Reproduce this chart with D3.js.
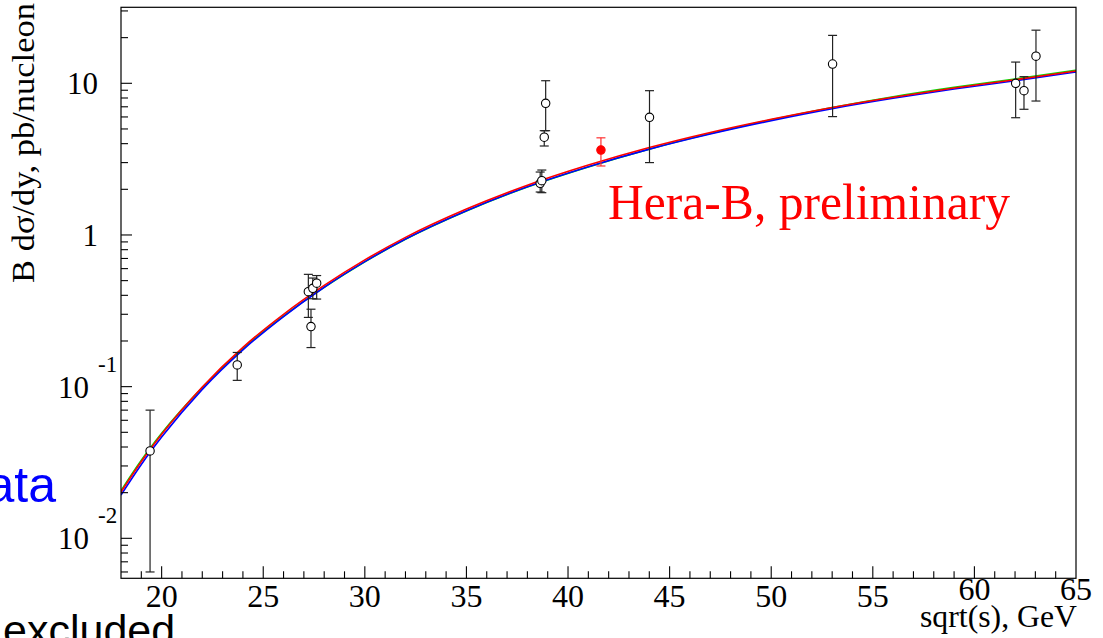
<!DOCTYPE html>
<html>
<head>
<meta charset="utf-8">
<script src="https://cdn.jsdelivr.net/npm/d3@7"></script>
<style>
  html, body { margin: 0; padding: 0; background: #fff; overflow: hidden; }
  text { font-family: "Liberation Serif", "Times New Roman", serif; }
</style>
</head>
<body>
<svg id="chart" width="1103" height="638"></svg>
<script>
// Fit curves (three nearly coincident model curves), sampled in sqrt(s)
const curveSqrtS = [18, 19, 20, 22, 24, 26, 28, 30, 32, 35, 38, 41, 44, 47, 50, 53, 56, 59, 62, 65];
const curveRed   = [0.0202, 0.0321, 0.0485, 0.0995, 0.1815, 0.300, 0.465, 0.685, 0.964, 1.482, 2.13, 2.89, 3.77, 4.74, 5.79, 6.93, 8.10, 9.31, 10.55, 12.05];
const curveGreen = [0.0206, 0.0327, 0.0492, 0.0985, 0.178, 0.292, 0.451, 0.665, 0.936, 1.438, 2.07, 2.81, 3.68, 4.66, 5.74, 6.92, 8.15, 9.40, 10.68, 12.20];
const curveBlue  = [0.0193, 0.0307, 0.0465, 0.0960, 0.175, 0.290, 0.452, 0.667, 0.940, 1.445, 2.08, 2.82, 3.68, 4.63, 5.67, 6.80, 7.96, 9.16, 10.39, 11.87];

// Measurements from other experiments (open circles)
const pointSqrtS = [19.43, 23.72, 27.22, 27.35, 27.44, 27.63, 38.63, 38.71, 38.83, 38.90, 44.01, 53.02, 62.03, 62.44, 63.03];
const pointValue = [0.0377, 0.139, 0.423, 0.249, 0.445, 0.481, 2.19, 2.28, 4.41, 7.38, 5.97, 13.4, 10.0, 8.94, 15.1];
const pointLow   = [0.0060, 0.110, 0.286, 0.181, 0.380, 0.378, 1.92, 1.90, 3.86, 4.87, 3.00, 6.03, 5.93, 6.74, 7.64];
const pointHigh  = [0.070, 0.168, 0.550, 0.324, 0.520, 0.540, 2.60, 2.68, 4.87, 10.4, 8.94, 20.7, 13.8, 11.06, 22.4];

// Hera-B measurement (filled red)
const heraSqrtS = [41.62];
const heraValue = [3.63];
const heraLow   = [2.85];
const heraHigh  = [4.37];

// Axis ticks and labels
const xTickValues = [20, 25, 30, 35, 40, 45, 50, 55, 60, 65];
const xTickLabels = ["20", "25", "30", "35", "40", "45", "50", "55", "60", "65"];
const yTickValues = [0.01, 0.1, 1, 10];
const yTickBase   = ["10", "10", "1", "10"];
const yTickExp    = ["-2", "-1", "", ""];

const plotLeft = 121, plotRight = 1076, plotTop = 7.3, plotBottom = 578.3;

const svg = d3.select("#chart");
const x = d3.scaleLinear().domain([18, 65]).range([plotLeft, plotRight]);
const y = d3.scaleLog().domain([0.00545, 31.7]).range([plotBottom, plotTop]);

svg.append("defs").append("clipPath").attr("id", "plotClip")
  .append("rect").attr("x", plotLeft).attr("y", plotTop)
  .attr("width", plotRight - plotLeft).attr("height", plotBottom - plotTop);

// Model curves
const line = d3.line().x(d => x(d[0])).y(d => y(d[1])).curve(d3.curveMonotoneX);
const curveGroup = svg.append("g").attr("clip-path", "url(#plotClip)");
[[curveGreen, "#00dd00"], [curveBlue, "#0000ff"], [curveRed, "#ff0000"]].forEach(([vals, col]) => {
  curveGroup.append("path")
    .datum(curveSqrtS.map((s, i) => [s, vals[i]]))
    .attr("d", line)
    .attr("fill", "none")
    .attr("stroke", col)
    .attr("stroke-width", 1.6);
});

// Error bars + markers
function drawPoints(sx, val, lo, hi, barColor, fill, stroke) {
  const g = svg.append("g");
  sx.forEach((s, i) => {
    const cx = x(s);
    g.append("line").attr("x1", cx).attr("x2", cx)
      .attr("y1", y(lo[i])).attr("y2", y(hi[i]))
      .attr("stroke", barColor).attr("stroke-width", 1.2);
    [lo[i], hi[i]].forEach(v => {
      g.append("line").attr("x1", cx - 4.5).attr("x2", cx + 4.5)
        .attr("y1", y(v)).attr("y2", y(v))
        .attr("stroke", barColor).attr("stroke-width", 1.2);
    });
  });
  sx.forEach((s, i) => {
    g.append("circle").attr("cx", x(s)).attr("cy", y(val[i])).attr("r", 4.2)
      .attr("fill", fill).attr("stroke", stroke).attr("stroke-width", 1.1);
  });
}
drawPoints(pointSqrtS, pointValue, pointLow, pointHigh, "#222", "#fff", "#000");
drawPoints(heraSqrtS, heraValue, heraLow, heraHigh, "#ff3030", "#ff0000", "#ff0000");

// Frame
svg.append("rect").attr("x", plotLeft).attr("y", plotTop)
  .attr("width", plotRight - plotLeft).attr("height", plotBottom - plotTop)
  .attr("fill", "none").attr("stroke", "#000").attr("stroke-width", 1.2);

// X ticks
const xAxis = svg.append("g");
d3.range(19, 65).forEach(v => {
  const major = v % 5 === 0;
  xAxis.append("line").attr("x1", x(v)).attr("x2", x(v))
    .attr("y1", plotBottom).attr("y2", plotBottom - (major ? 12 : 7))
    .attr("stroke", "#000").attr("stroke-width", 1.1);
});
xTickValues.forEach((v, i) => {
  xAxis.append("text").attr("x", x(v)).attr("y", v >= 60 ? 600 : 607)
    .attr("text-anchor", "middle").attr("font-size", 32).attr("fill", "#000")
    .text(xTickLabels[i]);
});

// Y ticks (log)
const yAxis = svg.append("g");
[0.001, 0.01, 0.1, 1, 10].forEach(dec => {
  d3.range(1, 10).forEach(m => {
    const v = dec * m;
    if (v < y.domain()[0] || v > y.domain()[1]) return;
    yAxis.append("line").attr("x1", plotLeft).attr("x2", plotLeft + (m === 1 ? 11 : 7))
      .attr("y1", y(v)).attr("y2", y(v))
      .attr("stroke", "#000").attr("stroke-width", 1.1);
  });
});
yTickValues.forEach((v, i) => {
  const hasExp = yTickExp[i] !== "";
  yAxis.append("text").attr("x", hasExp ? 89 : 98).attr("y", y(v) + 11)
    .attr("text-anchor", "end").attr("font-size", 31).attr("fill", "#000")
    .text(yTickBase[i]);
  if (hasExp) {
    yAxis.append("text").attr("x", 98).attr("y", y(v) - 15)
      .attr("text-anchor", "start").attr("font-size", 23).attr("fill", "#000")
      .text(yTickExp[i]);
  }
});

// Axis titles
svg.append("text")
  .attr("transform", "translate(34,3) rotate(-90)")
  .attr("text-anchor", "end").attr("font-size", 31).attr("fill", "#000")
  .attr("textLength", 280).attr("lengthAdjust", "spacingAndGlyphs")
  .text("B d\u03c3/dy, pb/nucleon");

svg.append("text").attr("x", 1077).attr("y", 627)
  .attr("text-anchor", "end").attr("font-size", 31).attr("fill", "#000")
  .attr("textLength", 157).attr("lengthAdjust", "spacingAndGlyphs")
  .text("sqrt(s), GeV");

// Annotations
svg.append("text").attr("x", 608).attr("y", 219)
  .attr("font-size", 50).attr("fill", "#ff0000")
  .attr("textLength", 402).attr("lengthAdjust", "spacingAndGlyphs")
  .text("Hera-B, preliminary");

svg.append("text").attr("x", 56).attr("y", 502)
  .attr("text-anchor", "end").attr("font-size", 50).attr("fill", "#0000ff")
  .style("font-family", "'Liberation Sans', Arial, sans-serif")
  .text("data");

svg.append("text").attr("x", 3).attr("y", 645)
  .attr("font-size", 43).attr("fill", "#000")
  .style("font-family", "'Liberation Sans', Arial, sans-serif")
  .text("excluded");
</script>
</body>
</html>
